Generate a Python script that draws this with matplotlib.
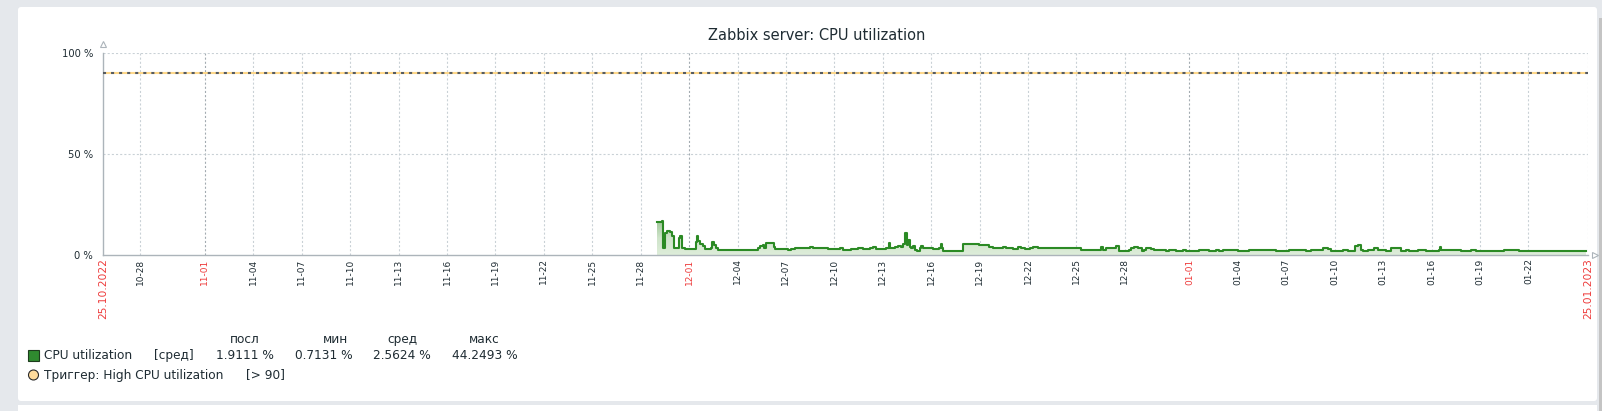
import numpy as np
import pandas as pd
import matplotlib
matplotlib.use('Agg')
import matplotlib.pyplot as plt
import matplotlib.dates as mdates
from matplotlib.patches import Rectangle, Circle, FancyBboxPatch
from matplotlib.colors import LinearSegmentedColormap

plt.rcParams['font.family'] = ['DejaVu Sans']
plt.rcParams['lines.scale_dashes'] = False

# ---- данные ----
title = 'Zabbix server: CPU utilization'
period_start = '2022-10-25 17:00'
period_end = '2023-01-25 17:00'
day_base = '2022-10-25'

# дни от 25.10.2022 00:00 и значения CPU, %
cpu_day = [35.01, 35.32, 35.38, 35.53, 35.63, 35.84, 35.96, 36.04, 36.31, 36.37,
           36.46, 36.54, 36.72, 36.99, 37.24, 37.41, 37.47, 37.55, 37.65, 37.86,
           37.96, 38.38, 38.44, 38.54, 38.64, 38.79, 41.27, 41.41, 41.57, 41.66,
           41.78, 41.88, 42.24, 42.32, 42.92, 43.12, 43.33, 43.54, 44.46, 44.67,
           45.29, 45.39, 45.60, 46.01, 46.32, 46.53, 47.05, 47.46, 47.77, 48.18,
           48.39, 48.60, 49.00, 49.21, 49.38, 49.46, 49.73, 49.93, 50.14, 50.24,
           50.35, 50.49, 50.55, 50.66, 50.76, 50.86, 50.97, 51.11, 51.28, 51.38,
           51.48, 51.79, 52.10, 52.51, 52.58, 52.68, 52.76, 52.93, 54.00, 54.54,
           54.68, 54.99, 55.51, 55.61, 55.82, 56.02, 56.43, 56.64, 57.05, 57.36,
           57.57, 57.78, 58.09, 58.29, 58.60, 58.91, 59.74, 60.15, 60.77, 61.29,
           62.22, 62.53, 62.63, 62.84, 63.25, 63.42, 63.62, 63.66, 64.28, 64.38,
           64.59, 64.79, 65.07, 65.21, 65.31, 65.62, 65.83, 66.14, 66.55, 66.76,
           67.17, 67.58, 67.79, 68.61, 69.23, 69.65, 69.85, 70.06, 70.37, 70.58,
           70.99, 71.71, 72.33, 72.74, 73.36, 74.19, 75.22, 75.53, 76.25, 76.56,
           76.77, 77.49, 77.80, 78.27, 78.42, 78.63, 78.77, 79.03, 79.45, 79.65,
           80.17, 80.48, 81.10, 81.41, 81.62, 82.13, 82.65, 83.27, 83.43, 83.52,
           83.60, 84.09, 84.51, 84.82, 85.13, 85.44, 85.75, 86.16, 86.78, 87.50,
           88.43, 89.87, 90.90, 91.73, 92.56]
cpu_val = [16.2, 16.6, 3.3, 10.7, 11.8, 11.3, 9.5, 3.3, 3.5, 8.3,
           9.2, 3.6, 3.0, 2.8, 3.1, 6.5, 9.4, 7.0, 5.5, 4.5,
           3.0, 3.3, 6.3, 5.0, 3.5, 2.6, 3.3, 4.5, 4.8, 3.3,
           5.8, 6.1, 4.0, 3.1, 3.0, 2.4, 3.0, 3.6, 3.8, 3.3,
           3.3, 3.6, 3.0, 3.0, 3.3, 2.7, 3.0, 3.6, 3.0, 3.3,
           3.8, 3.0, 3.0, 3.6, 5.8, 3.6, 3.8, 4.3, 3.8, 5.2,
           11.0, 5.0, 7.6, 4.0, 3.6, 4.3, 2.5, 2.0, 3.3, 4.3,
           3.6, 3.6, 3.0, 3.6, 5.5, 3.6, 2.0, 1.8, 5.3, 5.6,
           5.3, 5.0, 5.0, 4.0, 3.6, 3.3, 4.0, 3.3, 3.0, 4.0,
           3.6, 3.0, 3.3, 4.0, 3.6, 3.3, 3.5, 3.6, 3.3, 2.7,
           2.7, 3.8, 2.7, 3.3, 3.6, 4.3, 3.0, 2.0, 2.3, 3.3,
           4.0, 3.3, 2.0, 2.6, 3.3, 3.0, 2.3, 2.6, 2.0, 2.5,
           2.0, 2.3, 2.0, 2.3, 2.0, 2.3, 2.0, 2.3, 2.6, 2.3,
           2.0, 2.3, 2.6, 2.3, 2.0, 2.3, 2.0, 2.3, 3.6, 3.0,
           2.0, 2.6, 2.0, 4.6, 5.0, 2.6, 2.0, 2.3, 3.3, 2.3,
           2.0, 3.6, 2.0, 2.3, 2.0, 2.3, 2.0, 2.0, 2.6, 4.0,
           2.3, 2.6, 2.3, 1.8, 2.0, 2.6, 2.0, 1.8, 2.0, 2.3,
           2.0, 2.0, 1.8, 2.0, 1.9]
assert len(cpu_day) == len(cpu_val)

trigger_level = 90
y_ticks = [0, 50, 100]
y_labels = ['0 %', '50 %', '100 %']

tick_dates = ['2022-10-28', '2022-11-01', '2022-11-04', '2022-11-07', '2022-11-10',
              '2022-11-13', '2022-11-16', '2022-11-19', '2022-11-22', '2022-11-25',
              '2022-11-28', '2022-12-01', '2022-12-04', '2022-12-07', '2022-12-10',
              '2022-12-13', '2022-12-16', '2022-12-19', '2022-12-22', '2022-12-25',
              '2022-12-28', '2023-01-01', '2023-01-04', '2023-01-07', '2023-01-10',
              '2023-01-13', '2023-01-16', '2023-01-19', '2023-01-22']
edge_labels = ['25.10.2022', '25.01.2023']

legend_heads = ['посл', 'мин', 'сред', 'макс']
legend_vals = ['1.9111 %', '0.7131 %', '2.5624 %', '44.2493 %']
item_name = 'CPU utilization'
item_func = '[сред]'
trigger_name = 'Триггер: High CPU utilization'
trigger_cond = '[> 90]'

# ---- цвета ----
c_line = '#2b8a24'
c_axis = '#acb4ba'
c_grid = '#c9d1d6'
c_grid_month = '#a3abb1'
c_text = '#1f2c33'
c_red = '#ee3b3b'

W, H = 1602, 411
fig = plt.figure(figsize=(W / 100, H / 100), dpi=100, facecolor='#e5e8ec')

# фон-подложка в пикселях
bg = fig.add_axes([0, 0, 1, 1], zorder=0)
bg.set_xlim(0, W)
bg.set_ylim(H, 0)
bg.axis('off')
bg.add_patch(FancyBboxPatch((18, 7), 1579, 394, boxstyle='round,pad=0,rounding_size=3',
                            fc='white', ec='none'))
bg.add_patch(Rectangle((18, 405), 1579, 10, fc='white', ec='none'))
bg.add_patch(Rectangle((1599, 18), 3, 400, fc='#c4c4c4', ec='none'))

bg.text(817, 36, title, ha='center', va='center', fontsize=10.5, color=c_text)

# легенда
fs_leg = 8.7
for head, xh in zip(legend_heads, [230, 323, 387, 469]):
    bg.text(xh, 339.5, head, ha='left', va='center', fontsize=fs_leg, color=c_text)
bg.add_patch(Rectangle((28, 350), 10.5, 10.5, fc='#2f8a2f', ec='#1d3b1d', lw=0.8))
bg.text(44.3, 355.5, item_name, ha='left', va='center', fontsize=fs_leg, color=c_text)
bg.text(154, 355.5, item_func, ha='left', va='center', fontsize=fs_leg, color=c_text)
for val, xv in zip(legend_vals, [215.5, 295, 373, 452]):
    bg.text(xv, 355.5, val, ha='left', va='center', fontsize=fs_leg, color=c_text)
bg.add_patch(Circle((33.5, 375), 5, fc='#ffdb9c', ec='#2a2a2a', lw=0.8))
bg.text(43.6, 375, trigger_name, ha='left', va='center', fontsize=fs_leg, color=c_text)
bg.text(245.7, 375, trigger_cond, ha='left', va='center', fontsize=fs_leg, color=c_text)

# график
ax = fig.add_axes([103.3 / W, (H - 255) / H, (1588.3 - 103.3) / W, (255 - 53) / H], zorder=1)
ax.patch.set_alpha(0)

x0 = mdates.date2num(pd.Timestamp(period_start))
x1 = mdates.date2num(pd.Timestamp(period_end))
xd = mdates.date2num(pd.Timestamp(day_base)) + np.array(cpu_day)
yv = np.array(cpu_val)

# сетка
for d in tick_dates:
    ts = pd.Timestamp(d)
    col = c_grid_month if ts.day == 1 else c_grid
    ax.axvline(mdates.date2num(ts), color=col, lw=0.8, dashes=(1.5, 1.5), zorder=0)
ax.axvline(x1, color=c_grid, lw=0.8, dashes=(1.5, 1.5), zorder=0)
for yy in [50, 100]:
    ax.axhline(yy, color=c_grid, lw=0.8, dashes=(1.5, 1.5), zorder=0)

# заливка градиентом
grad = np.linspace(0, 1, 256).reshape(-1, 1)
cmap = LinearSegmentedColormap.from_list('g', ['#deedda', '#cfe4ca', '#a0c79a'])
im = ax.imshow(grad, extent=[xd[0], xd[-1], 0, yv.max()], origin='lower', cmap=cmap,
               aspect='auto', zorder=1, interpolation='bilinear')
poly = ax.fill_between(xd, yv, step='post', color='none', lw=0)
im.set_clip_path(poly.get_paths()[0], transform=ax.transData)

ax.plot(xd, yv, drawstyle='steps-post', color=c_line, lw=1.5, zorder=3)

# триггер
ax.axhline(trigger_level, color='#ffd88a', lw=1.5, zorder=4)
ax.axhline(trigger_level, color='#555b61', lw=1.5, dashes=(2.2, 3.6), zorder=5)

ax.set_xlim(x0, x1)
ax.set_ylim(0, 100)

for s in ['top', 'right']:
    ax.spines[s].set_visible(False)
for s in ['left', 'bottom']:
    ax.spines[s].set_color(c_axis)
    ax.spines[s].set_linewidth(1)

ax.set_yticks(y_ticks)
ax.set_yticklabels(y_labels)
ax.tick_params(axis='y', length=0, pad=7.5, labelsize=7.2, labelcolor=c_text)

xt = [x0] + [mdates.date2num(pd.Timestamp(d)) for d in tick_dates] + [x1]
xl = [edge_labels[0]] + [pd.Timestamp(d).strftime('%m-%d') for d in tick_dates] + [edge_labels[1]]
ax.set_xticks(xt)
ax.set_xticklabels(xl, rotation=90)
ax.tick_params(axis='x', length=0, pad=2.5, labelsize=6.5, labelcolor=c_text)
for lab, d in zip(ax.get_xticklabels()[1:-1], tick_dates):
    if pd.Timestamp(d).day == 1:
        lab.set_color(c_red)
for lab in [ax.get_xticklabels()[0], ax.get_xticklabels()[-1]]:
    lab.set_color(c_red)
    lab.set_fontsize(7.7)

# стрелки осей
ax.plot([0], [1.045], marker='^', ms=5, mfc='white', mec=c_axis, mew=0.8,
        transform=ax.transAxes, clip_on=False)
ax.plot([1.0045], [0], marker='>', ms=5, mfc='white', mec=c_axis, mew=0.8,
        transform=ax.transAxes, clip_on=False)

fig.savefig('out.png', dpi=100, facecolor=fig.get_facecolor())
